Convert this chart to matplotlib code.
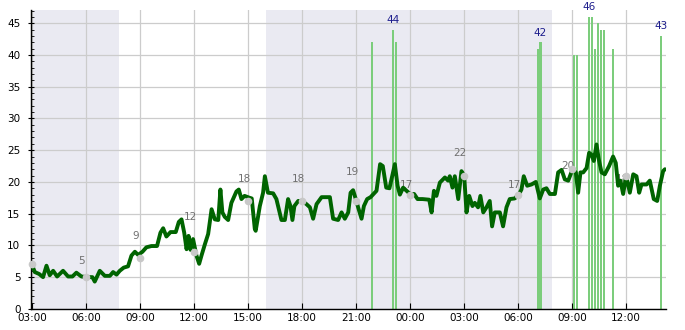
import matplotlib
matplotlib.use("Agg")
import matplotlib.pyplot as plt
import matplotlib.dates as mdates
from matplotlib.ticker import MultipleLocator
import pandas as pd

START = pd.Timestamp("2024-01-01 03:00")

# main line: hours since start, value
line_h = [0.0, 0.15, 0.39, 0.61, 0.80, 0.98, 1.17, 1.39, 1.72, 2.0, 2.24, 2.46, 2.74, 3.11, 3.35,
          3.48, 3.76, 4.04, 4.32, 4.5, 4.69, 4.87, 5.09, 5.33, 5.52, 5.71, 5.89, 6.13, 6.35, 6.63,
          6.94, 7.13, 7.28, 7.46, 7.69, 7.98, 8.15, 8.3, 8.45, 8.58, 8.69, 8.8, 8.94, 9.13, 9.28,
          9.41, 9.6, 9.78, 9.97, 10.15, 10.34, 10.46, 10.57, 10.7, 10.89, 11.07, 11.35, 11.48, 11.63,
          11.8, 12.08, 12.2, 12.37, 12.42, 12.65, 12.83, 12.93, 13.1, 13.39, 13.57, 13.85, 14.04,
          14.22, 14.35, 14.46, 14.57, 14.78, 15.0, 15.24, 15.43, 15.61, 15.8, 16.08, 16.54, 16.72,
          17.0, 17.19, 17.37, 17.56, 17.69, 17.83, 18.0, 18.15, 18.3, 18.43, 18.61, 18.8, 19.13,
          19.33, 19.48, 19.67, 19.85, 20.0, 20.15, 20.3, 20.43, 20.61, 20.8, 21.0, 21.22, 21.41,
          21.69, 22.06, 22.19, 22.32, 22.46, 22.65, 22.93, 23.11, 23.2, 23.35, 23.48, 23.67, 23.85,
          24.0, 24.13, 24.28, 24.46, 24.59, 24.77, 24.9, 25.06, 25.24, 25.42, 25.55, 25.7, 25.98,
          26.16, 26.35, 26.53, 26.81, 27.05, 27.18, 27.31, 27.5, 27.74, 27.98, 28.2, 28.39, 28.57,
          28.76, 29.04, 29.22, 29.41, 29.59, 29.78, 30.02, 30.2, 30.33, 30.46, 30.61, 30.8, 30.94,
          31.07, 31.2, 31.35, 31.48, 31.63, 31.81, 32.05, 32.27, 32.42, 32.55, 32.68, 32.83, 33.0,
          33.2, 33.39, 33.57, 33.72, 33.85, 34.13, 34.31, 34.53, 34.72, 34.87, 35.05, 35.15]
line_v = [6.9, 5.8, 5.5, 5.0, 6.8, 5.3, 6.0, 5.1, 6.0, 5.1, 5.1, 5.7, 5.1, 5.0, 5.0,
          4.3, 6.0, 5.2, 5.2, 5.8, 5.4, 6.0, 6.5, 6.7, 8.4, 9.0, 8.5, 9.0, 9.7, 9.9,
          9.9, 12.0, 12.7, 11.4, 12.1, 12.1, 13.7, 14.1, 12.0, 9.4, 11.5, 9.3, 11.0, 8.4, 7.1,
          8.4, 10.2, 11.8, 15.7, 14.1, 14.0, 18.8, 15.2, 14.5, 14.0, 16.7, 18.5, 18.8, 17.3,
          17.8, 17.5, 17.4, 12.6, 12.3, 16.2, 18.3, 20.9, 18.3, 18.2, 17.3, 14.0, 14.0,
          17.3, 16.2, 14.0, 16.2, 17.0, 17.0, 16.5, 16.0, 14.2, 16.5, 17.6, 17.6, 14.2,
          14.0, 15.2, 14.2, 15.2, 18.3, 18.7, 17.1, 15.6, 14.2, 16.2, 17.3, 17.6, 18.6,
          22.8, 22.5, 19.1, 19.0, 20.9, 22.8, 19.4, 18.0, 19.1, 18.6, 18.1, 18.1, 17.3,
          17.3, 17.2, 15.2, 18.6, 17.8, 19.9, 20.7, 20.2, 20.9, 19.1, 20.9, 17.3, 21.7,
          21.0, 15.2, 17.8, 16.2, 16.7, 16.0, 17.8, 15.2, 16.0, 17.0, 13.0, 15.2, 15.2,
          13.0, 16.0, 17.3, 17.4, 18.1, 18.8, 20.9, 19.4, 19.6, 20.0, 17.4, 18.8, 19.0,
          18.1, 18.1, 21.5, 21.9, 20.4, 20.2, 22.0, 21.5, 18.3, 21.5, 21.5, 22.2, 24.6,
          24.3, 23.3, 25.9, 23.5, 21.5, 21.2, 22.5, 24.0, 23.0, 19.4, 20.2, 18.1, 21.0,
          18.3, 21.2, 20.9, 18.3, 19.6, 19.6, 20.2, 17.3, 17.0, 19.4, 21.7, 22.0]

# bars
bar_h = [18.87, 20.04, 20.19, 28.09, 28.24, 30.09, 30.24, 30.93, 31.08, 31.24, 31.41,
         31.58, 31.74, 32.26, 34.91]
bar_v = [42, 44, 42, 41, 42, 40, 40, 46, 46, 41, 45, 44, 44, 41, 43]
peak_idx = [1, 4, 7, 14]

# gray markers every 3 hours
mark_h = [0, 3, 6, 9, 12, 15, 18, 21, 24, 27, 30, 33]
mark_v = [7, 5, 8, 9, 17, 17, 17, 18, 21, 18, 22, 21]
mark_labels = [None, 5, 9, 12, 18, 18, 19, 17, 22, 17, 20, 18]

# shaded periods (hours since start)
shade_spans = [(-0.1, 4.83), (13.0, 28.9)]


def t(h):
    return START + pd.to_timedelta(h, unit="h")


fig = plt.figure(figsize=(6.85, 3.3), dpi=100)
ax = fig.add_axes([0.045, 0.064, 0.927, 0.906])

for a, b in shade_spans:
    ax.axvspan(t(a), t(b), color="#eaeaf2", zorder=0, lw=0)

ax.grid(True, color="#cccccc", lw=0.9, zorder=1)
ax.set_axisbelow(True)

bx = [t(h) for h in bar_h]
ax.bar(bx, bar_v, width=0.0047, color="#7ccd7c", zorder=2, lw=0)
for i in peak_idx:
    ax.text(bx[i], bar_v[i] + 1.5, str(bar_v[i]), color="#1c1c8c", fontsize=7.5,
            ha="center", va="center", zorder=6)

mx = [t(h) for h in mark_h]
for x, v, lab in zip(mx, mark_v, mark_labels):
    if lab is not None:
        ax.annotate(str(lab), (x, lab + 2.5), xytext=(-3, 0), textcoords="offset points",
                    color="#707070", fontsize=7.5, ha="center", va="center", zorder=2.5)

ax.plot([t(h) for h in line_h], line_v, color="#006400", lw=2.8, zorder=3,
        solid_joinstyle="round", solid_capstyle="round")
ax.plot(mx, mark_v, "o", color="#c8c8c8", ms=4.5, zorder=4, clip_on=False)

ax.set_xlim(t(-0.07), t(35.2))
ax.set_ylim(0, 47.1)
ax.xaxis.set_major_locator(mdates.HourLocator(byhour=range(0, 24, 3)))
ax.xaxis.set_major_formatter(mdates.DateFormatter("%H:%M"))
ax.yaxis.set_major_locator(MultipleLocator(5))
ax.yaxis.set_minor_locator(MultipleLocator(1))

for s in ["top", "right"]:
    ax.spines[s].set_visible(False)
for s in ["left", "bottom"]:
    ax.spines[s].set_color("black")
    ax.spines[s].set_linewidth(1.0)

ax.tick_params(axis="x", which="major", direction="in", length=4, labelsize=7.5, pad=3, color="black")
ax.tick_params(axis="y", which="major", direction="inout", length=5, labelsize=7.5, pad=5, color="black")
ax.tick_params(axis="y", which="minor", direction="in", length=2.5, color="black")

fig.savefig("out.png", dpi=100)
